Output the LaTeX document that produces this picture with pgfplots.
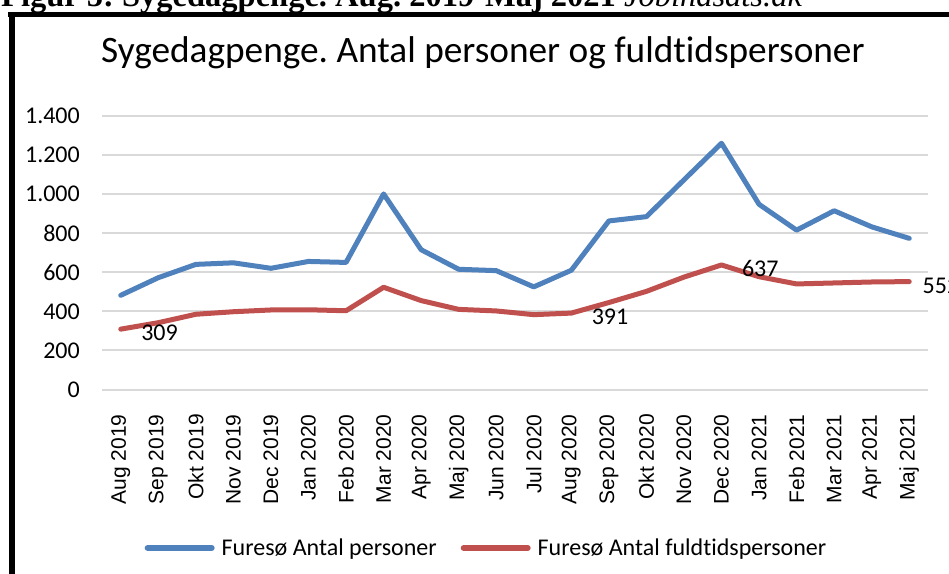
\documentclass[border=0pt]{standalone}
\usepackage{fontspec}
\setmainfont{Carlito}[Ligatures=NoCommon]
\newfontfamily\arialfont{Liberation Sans}
\newfontfamily\timesfont{Liberation Serif}
\usepackage{pgfplots}
\pgfplotsset{compat=1.18}
\definecolor{sblue}{HTML}{4F81BD}
\definecolor{sred}{HTML}{C0504D}
\definecolor{gridgray}{HTML}{D9D9D9}
\frenchspacing
\begin{document}
\begin{tikzpicture}[x=1bp,y=1bp]
\path[use as bounding box, clip] (0,0) rectangle (949,574);
\fill[white] (0,0) rectangle (949,574);
\node[anchor=base west, inner sep=0pt, font=\timesfont\fontsize{32.5bp}{36bp}\selectfont] at (1,567) {\textbf{Figur 5: Sygedagpenge. Aug. 2019-Maj 2021} \textit{Jobindsats.dk}};
\draw[line width=5bp] (8,559.5) -- (949,559.5);
\draw[line width=6bp] (11.5,562) -- (11.5,-5);
\node[anchor=base west, inner sep=0pt, font=\fontsize{37.3bp}{41bp}\selectfont] at (101,511) {Sygedagpenge. Antal personer og fuldtidspersoner};
\begin{axis}[
  at={(102bp,184.4bp)}, anchor=south west,
  scale only axis, width=826bp, height=273.9bp,
  xmin=-0.5, xmax=21.5, ymin=0, ymax=1400,
  xtick={0,...,21},
  xticklabels={Aug 2019,Sep 2019,Okt 2019,Nov 2019,Dec 2019,Jan 2020,Feb 2020,Mar 2020,Apr 2020,Maj 2020,Jun 2020,Jul 2020,Aug 2020,Sep 2020,Okt 2020,Nov 2020,Dec 2020,Jan 2021,Feb 2021,Mar 2021,Apr 2021,Maj 2021},
  ytick={0,200,400,600,800,1000,1200,1400},
  yticklabels={0,200,400,600,800,1.000,1.200,1.400},
  ymajorgrids, grid style={draw=gridgray, line width=2bp},
  axis line style={draw=none}, major tick length=0pt,
  xticklabel style={font=\arialfont\fontsize{21bp}{24bp}\selectfont, rotate=90, anchor=east, inner sep=0pt},
  xticklabel shift=24.5bp,
  yticklabel style={font=\fontsize{24bp}{28bp}\selectfont, inner sep=0pt},
  yticklabel shift=22bp,
  clip=false,
  legend columns=2,
  legend style={at={(0.4655,-0.578)}, anchor=center, draw=none, fill=none,
    font=\fontsize{24bp}{28bp}\selectfont,
    /tikz/every odd column/.append style={column sep=5bp},
    /tikz/every even column/.append style={column sep=22bp}},
  legend image code/.code={\draw[#1, line width=6bp, line cap=round] (0bp,0bp) -- (64bp,0bp);},
  point meta=explicit symbolic,
  nodes near coords,
  visualization depends on={x \as \xv},
  every node near coord/.append style={anchor=west, xshift={18bp-7bp*(\xv>20)}, yshift=-4bp, font=\fontsize{24bp}{28bp}\selectfont, text=black, inner sep=0pt},
]
\addplot[sblue, line width=5bp, line join=round, line cap=round] coordinates {
(0,482)[] (1,572)[] (2,640)[] (3,648)[] (4,620)[] (5,655)[] (6,650)[] (7,1000)[] (8,715)[] (9,615)[] (10,608)[] (11,525)[] (12,610)[] (13,862)[] (14,884)[] (15,1072)[] (16,1259)[] (17,947)[] (18,815)[] (19,914)[] (20,832)[] (21,773)[]
};
\addlegendentry{Furesø Antal personer}
\addplot[sred, line width=5bp, line join=round, line cap=round] coordinates {
(0,309)[309] (1,342)[] (2,385)[] (3,398)[] (4,407)[] (5,408)[] (6,403)[] (7,523)[] (8,455)[] (9,410)[] (10,402)[] (11,383)[] (12,391)[391] (13,445)[] (14,502)[] (15,575)[] (16,637)[637] (17,577)[] (18,540)[] (19,545)[] (20,550)[] (21,552)[552]
};
\addlegendentry{Furesø Antal fuldtidspersoner}
\end{axis}
\end{tikzpicture}
\end{document}
